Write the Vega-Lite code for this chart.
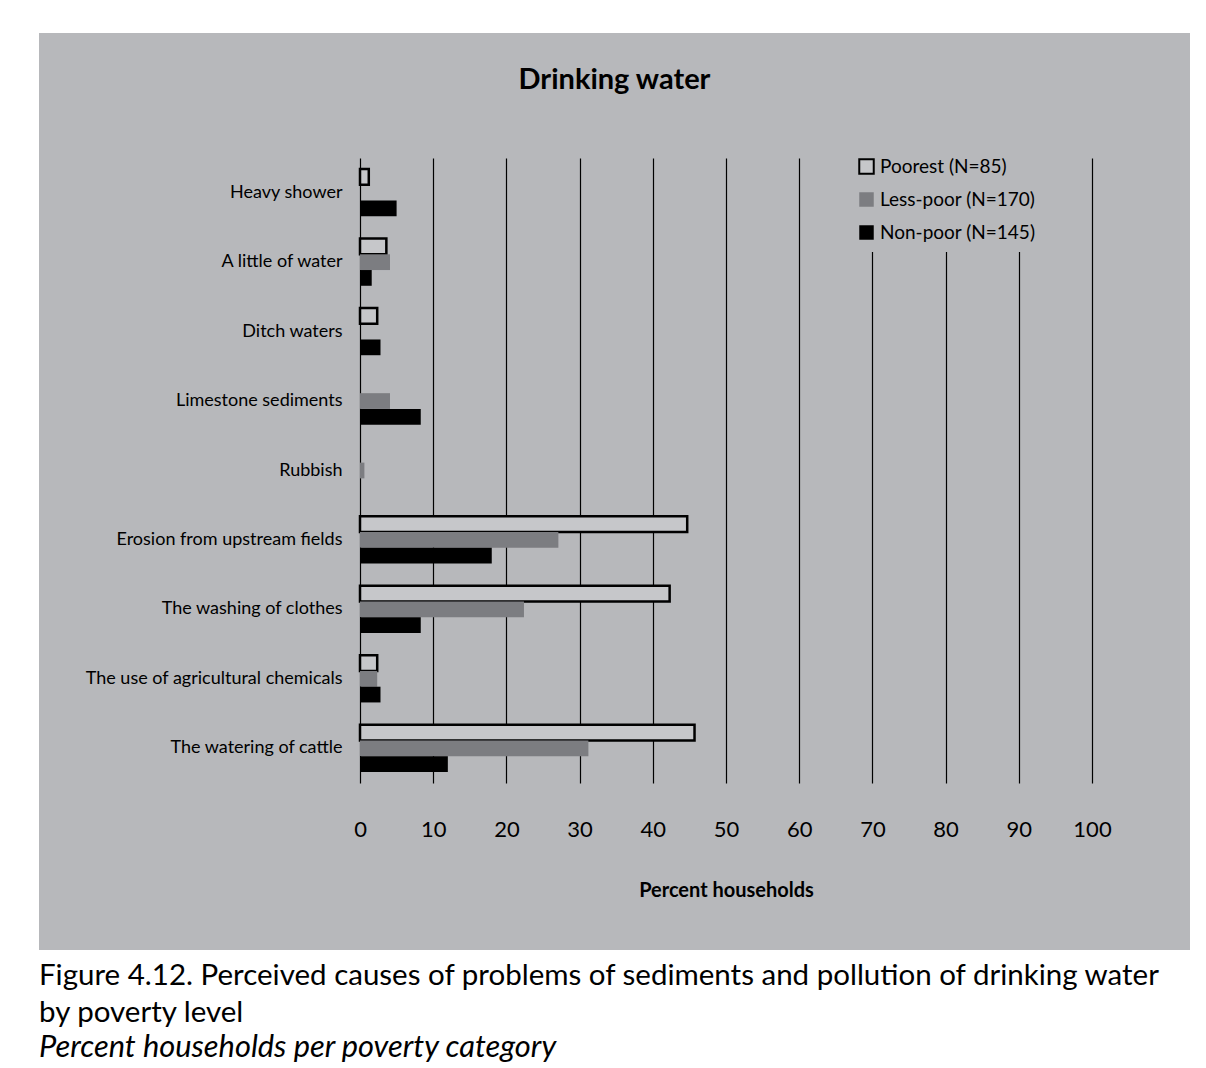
{
  "$schema": "https://vega.github.io/schema/vega-lite/v6.json",
  "background": "white",
  "padding": {"left": 39, "top": 33, "right": 16, "bottom": 0},
  "title": {
    "text": ["Figure 4.12. Perceived causes of problems of sediments and pollution of drinking water", "by poverty level"],
    "subtitle": "Percent households per poverty category",
    "orient": "bottom",
    "anchor": "start",
    "frame": "bounds",
    "offset": 12,
    "font": "Lato",
    "fontSize": 29.5,
    "fontWeight": "normal",
    "color": "black",
    "lineHeight": 37,
    "subtitleFont": "Lato",
    "subtitleFontSize": 30.8,
    "subtitleFontStyle": "italic",
    "subtitleColor": "black",
    "subtitlePadding": 4
  },
  "config": {
    "view": {"fill": "#b7b8bb", "stroke": null},
    "concat": {"spacing": 0},
    "font": "Lato"
  },
  "vconcat": [
    {
      "width": 1151,
      "height": 917,
      "title": {
        "text": "Drinking water",
        "anchor": "middle",
        "frame": "group",
        "offset": -62,
        "font": "Lato",
        "fontSize": 29,
        "fontWeight": "bold",
        "color": "black"
      },
      "data": {
        "values": [
          {"cause": "Heavy shower", "group": "Poorest (N=85)", "value": 1.2},
          {"cause": "Heavy shower", "group": "Less-poor (N=170)", "value": 0},
          {"cause": "Heavy shower", "group": "Non-poor (N=145)", "value": 5.0},
          {"cause": "A little of water", "group": "Poorest (N=85)", "value": 3.6},
          {"cause": "A little of water", "group": "Less-poor (N=170)", "value": 4.1},
          {"cause": "A little of water", "group": "Non-poor (N=145)", "value": 1.6},
          {"cause": "Ditch waters", "group": "Poorest (N=85)", "value": 2.35},
          {"cause": "Ditch waters", "group": "Less-poor (N=170)", "value": 0},
          {"cause": "Ditch waters", "group": "Non-poor (N=145)", "value": 2.8},
          {"cause": "Limestone sediments", "group": "Poorest (N=85)", "value": 0},
          {"cause": "Limestone sediments", "group": "Less-poor (N=170)", "value": 4.1},
          {"cause": "Limestone sediments", "group": "Non-poor (N=145)", "value": 8.3},
          {"cause": "Rubbish", "group": "Poorest (N=85)", "value": 0},
          {"cause": "Rubbish", "group": "Less-poor (N=170)", "value": 0.6},
          {"cause": "Rubbish", "group": "Non-poor (N=145)", "value": 0},
          {"cause": "Erosion from upstream fields", "group": "Poorest (N=85)", "value": 44.7},
          {"cause": "Erosion from upstream fields", "group": "Less-poor (N=170)", "value": 27.1},
          {"cause": "Erosion from upstream fields", "group": "Non-poor (N=145)", "value": 18.0},
          {"cause": "The washing of clothes", "group": "Poorest (N=85)", "value": 42.3},
          {"cause": "The washing of clothes", "group": "Less-poor (N=170)", "value": 22.4},
          {"cause": "The washing of clothes", "group": "Non-poor (N=145)", "value": 8.3},
          {"cause": "The use of agricultural chemicals", "group": "Poorest (N=85)", "value": 2.35},
          {"cause": "The use of agricultural chemicals", "group": "Less-poor (N=170)", "value": 2.35},
          {"cause": "The use of agricultural chemicals", "group": "Non-poor (N=145)", "value": 2.8},
          {"cause": "The watering of cattle", "group": "Poorest (N=85)", "value": 45.7},
          {"cause": "The watering of cattle", "group": "Less-poor (N=170)", "value": 31.2},
          {"cause": "The watering of cattle", "group": "Non-poor (N=145)", "value": 12.0}
        ]
      },
      "resolve": {"axis": {"x": "independent"}},
      "layer": [
        {
          "mark": {"type": "bar", "strokeWidth": 2.5},
          "encoding": {
            "y": {
              "field": "cause",
              "type": "nominal",
              "sort": ["Heavy shower", "A little of water", "Ditch waters", "Limestone sediments", "Rubbish", "Erosion from upstream fields", "The washing of clothes", "The use of agricultural chemicals", "The watering of cattle"],
              "scale": {"range": [125, 750], "paddingInner": 0.32, "paddingOuter": 0.16},
              "axis": {
                "title": null,
                "orient": "left",
                "offset": -321,
                "domain": false,
                "ticks": false,
                "grid": false,
                "labelPadding": 18,
                "labelFont": "Lato",
                "labelFontSize": 18,
                "labelColor": "black",
                "labelLimit": 400
              }
            },
            "yOffset": {
              "field": "group",
              "type": "nominal",
              "sort": ["Poorest (N=85)", "Less-poor (N=170)", "Non-poor (N=145)"],
              "scale": {"paddingInner": 0, "paddingOuter": 0}
            },
            "x": {
              "field": "value",
              "type": "quantitative",
              "scale": {"domain": [0, 100], "range": [321, 1053], "nice": false},
              "axis": {
                "title": "Percent households",
                "orient": "bottom",
                "offset": -167,
                "values": [0, 10, 20, 30, 40, 50, 60, 70, 80, 90, 100],
                "format": "d",
                "domain": false,
                "ticks": false,
                "grid": false,
                "labelFlush": false,
                "labelOverlap": false,
                "labelPadding": 36,
                "labelFont": "Lato",
                "labelFontSize": 22,
                "labelColor": "black",
                "titleFont": "Lato",
                "titleFontSize": 20,
                "titleFontWeight": "bold",
                "titleColor": "black",
                "titlePadding": 40
              }
            },
            "fill": {
              "field": "group",
              "type": "nominal",
              "scale": {
                "domain": ["Poorest (N=85)", "Less-poor (N=170)", "Non-poor (N=145)"],
                "range": ["#c6c7ca", "#7c7d81", "#000000"]
              },
              "legend": {
                "title": null,
                "orient": "none",
                "legendX": 810,
                "legendY": 116,
                "fillColor": "#b7b8bb",
                "padding": 8,
                "zindex": 1,
                "symbolType": "square",
                "symbolSize": 210,
                "symbolStrokeWidth": 2,
                "labelFont": "Lato",
                "labelFontSize": 19,
                "labelColor": "black",
                "labelOffset": 4,
                "rowPadding": 10
              }
            },
            "stroke": {
              "field": "group",
              "type": "nominal",
              "scale": {
                "domain": ["Poorest (N=85)", "Less-poor (N=170)", "Non-poor (N=145)"],
                "range": ["#000000", "transparent", "transparent"]
              },
              "legend": {
                "title": null,
                "orient": "none",
                "legendX": 810,
                "legendY": 116,
                "fillColor": "#b7b8bb",
                "padding": 8,
                "zindex": 1,
                "symbolType": "square",
                "symbolSize": 210,
                "symbolStrokeWidth": 2,
                "labelFont": "Lato",
                "labelFontSize": 19,
                "labelColor": "black",
                "labelOffset": 4,
                "rowPadding": 10
              }
            },
            "strokeOpacity": {
              "condition": {"test": "datum.value <= 0", "value": 0},
              "value": 1
            }
          }
        },
        {
          "mark": {"type": "bar", "opacity": 0},
          "encoding": {
            "y": {
              "field": "cause",
              "type": "nominal",
              "sort": ["Heavy shower", "A little of water", "Ditch waters", "Limestone sediments", "Rubbish", "Erosion from upstream fields", "The washing of clothes", "The use of agricultural chemicals", "The watering of cattle"]
            },
            "x": {
              "field": "value",
              "type": "quantitative",
              "axis": {
                "title": null,
                "orient": "top",
                "values": [0, 10, 20, 30, 40, 50, 60, 70, 80, 90, 100],
                "domain": false,
                "ticks": false,
                "labels": false,
                "grid": true,
                "gridColor": "black",
                "gridWidth": 1.2,
                "gridOpacity": 1
              }
            }
          }
        }
      ]
    }
  ]
}
